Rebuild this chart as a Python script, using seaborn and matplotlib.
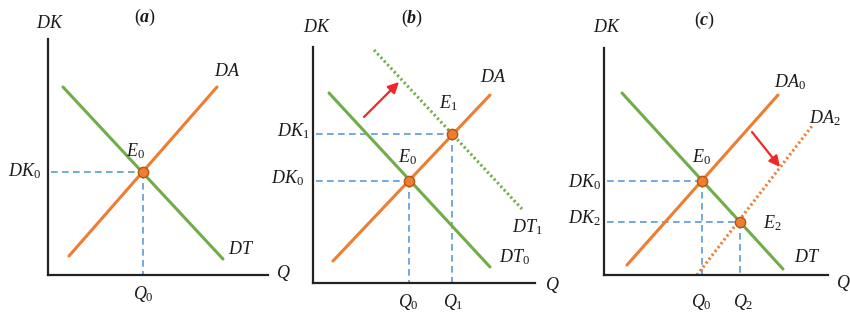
import matplotlib
matplotlib.use("Agg")
import matplotlib.pyplot as plt
import seaborn as sns

sns.set_style("white")
plt.rcParams["font.family"] = ["Liberation Serif", "DejaVu Serif"]
plt.rcParams["mathtext.fontset"] = "custom"
plt.rcParams["mathtext.rm"] = "Liberation Serif"
plt.rcParams["mathtext.it"] = "Liberation Serif:italic"
plt.rcParams["mathtext.bf"] = "Liberation Serif:italic:bold"

GREEN = "#70AD47"
ORANGE = "#ED7D31"
BLUE = "#5B9BD5"
RED = "#F02828"
AXIS = "#222222"

# ---- panel (a) data (quantity, price) ----
a_dt_q = [15, 175]
a_dt_p = [188, 16]
a_da_q = [21, 169]
a_da_p = [19, 188]
a_eq_q = [95]
a_eq_p = [103]

# ---- panel (b) data ----
b_dt0_q = [16, 177]
b_dt0_p = [190, 16]
b_da_q = [20, 177]
b_da_p = [22, 188]
b_dt1_q = [61, 209]
b_dt1_p = [233, 74]
b_eq_q = [96, 139]
b_eq_p = [102, 149]
b_arrow_q = [51, 86]
b_arrow_p = [166, 201]

# ---- panel (c) data ----
c_dt_q = [18, 179]
c_dt_p = [182, 6]
c_da0_q = [23, 174]
c_da0_p = [10, 180]
c_da2_q = [93, 208]
c_da2_p = [0, 149]
c_eq_q = [98, 136]
c_eq_p = [94, 53]
c_arrow_q = [148, 176]
c_arrow_p = [143, 108]

FS = 13
TXT = "#1a1a1a"

fig = plt.figure(figsize=(8.5, 3.2), dpi=100)
fig.patch.set_facecolor("white")


def make_axes(x0, y0, w, h):
    ax = fig.add_axes([x0 / 850, (320 - y0) / 320, w / 850, h / 320])
    ax.set_xlim(0, w)
    ax.set_ylim(0, h)
    ax.set_xticks([])
    ax.set_yticks([])
    ax.patch.set_alpha(0)
    sns.despine(ax=ax)
    for s in ("left", "bottom"):
        ax.spines[s].set_color(AXIS)
        ax.spines[s].set_linewidth(1.6)
    return ax


def line(ax, q, p, color, ls="-", lw=2.2):
    sns.lineplot(x=q, y=p, ax=ax, color=color, lw=lw, linestyle=ls,
                 estimator=None, sort=False, clip_on=False)


def guides(ax, q, p):
    for qq, pp in zip(q, p):
        line(ax, [3, qq], [pp, pp], BLUE, ls=(0, (4, 2.6)), lw=1.2)
        line(ax, [qq, qq], [pp, 0], BLUE, ls=(0, (4, 2.6)), lw=1.2)


def points(ax, q, p):
    sns.scatterplot(x=q, y=p, ax=ax, s=55, color=ORANGE, edgecolor="#B85410",
                    linewidth=1.0, zorder=5, clip_on=False)


def txt(ax, x, y, s, ha="center", va="center"):
    ax.text(x, y, s, fontsize=FS, ha=ha, va=va, color=TXT, clip_on=False)


def arrow(ax, q, p):
    ax.annotate("", xy=(q[1], p[1]), xytext=(q[0], p[0]),
                arrowprops=dict(arrowstyle="-|>", color=RED, lw=1.6,
                                mutation_scale=16, shrinkA=0, shrinkB=0),
                annotation_clip=False)


# ---------------- panel (a) ----------------
ax = make_axes(48, 275, 220, 236)
guides(ax, a_eq_q, a_eq_p)
line(ax, a_dt_q, a_dt_p, GREEN)
line(ax, a_da_q, a_da_p, ORANGE)
points(ax, a_eq_q, a_eq_p)
txt(ax, 2, 252, "$DK$")
txt(ax, 97, 258, r"$(\mathbf{a})$")
txt(ax, 179, 203, "$DA$")
txt(ax, 193, 25, "$DT$")
txt(ax, 88, 124, "$E_0$")
txt(ax, -7, 104, "$DK_0$", ha="right")
txt(ax, 95, -19, "$Q_0$")
txt(ax, 235, 2, "$Q$")

# ---------------- panel (b) ----------------
ax = make_axes(313, 283, 222, 236)
guides(ax, b_eq_q, b_eq_p)
line(ax, b_dt1_q, b_dt1_p, GREEN, ls=(0, (0.7, 0.9)))
line(ax, b_dt0_q, b_dt0_p, GREEN)
line(ax, b_da_q, b_da_p, ORANGE)
points(ax, b_eq_q, b_eq_p)
arrow(ax, b_arrow_q, b_arrow_p)
txt(ax, 4, 255, "$DK$")
txt(ax, 99, 265, r"$(\mathbf{b})$")
txt(ax, 180, 205, "$DA$")
txt(ax, 135, 180, "$E_1$")
txt(ax, 95, 126, "$E_0$")
txt(ax, 214, 56, "$DT_1$")
txt(ax, 202, 26, "$DT_0$")
txt(ax, -3, 152, "$DK_1$", ha="right")
txt(ax, -9, 105, "$DK_0$", ha="right")
txt(ax, 95, -19, "$Q_0$")
txt(ax, 140, -19, "$Q_1$")
txt(ax, 239, -2, "$Q$")

# ---------------- panel (c) ----------------
ax = make_axes(604, 275, 224, 227)
guides(ax, c_eq_q, c_eq_p)
line(ax, c_da2_q, c_da2_p, ORANGE, ls=(0, (0.7, 0.9)))
line(ax, c_dt_q, c_dt_p, GREEN)
line(ax, c_da0_q, c_da0_p, ORANGE)
points(ax, c_eq_q, c_eq_p)
arrow(ax, c_arrow_q, c_arrow_p)
txt(ax, 3, 247, "$DK$")
txt(ax, 101, 255, r"$(\mathbf{c})$")
txt(ax, 186, 193, "$DA_0$")
txt(ax, 221, 157, "$DA_2$")
txt(ax, 98, 118, "$E_0$")
txt(ax, 168, 52, "$E_2$")
txt(ax, 203, 17, "$DT$")
txt(ax, -3, 93, "$DK_0$", ha="right")
txt(ax, -3, 57, "$DK_2$", ha="right")
txt(ax, 97, -27, "$Q_0$")
txt(ax, 139, -27, "$Q_2$")
txt(ax, 239, -8, "$Q$")

fig.savefig("out.png", dpi=100, facecolor="white")
